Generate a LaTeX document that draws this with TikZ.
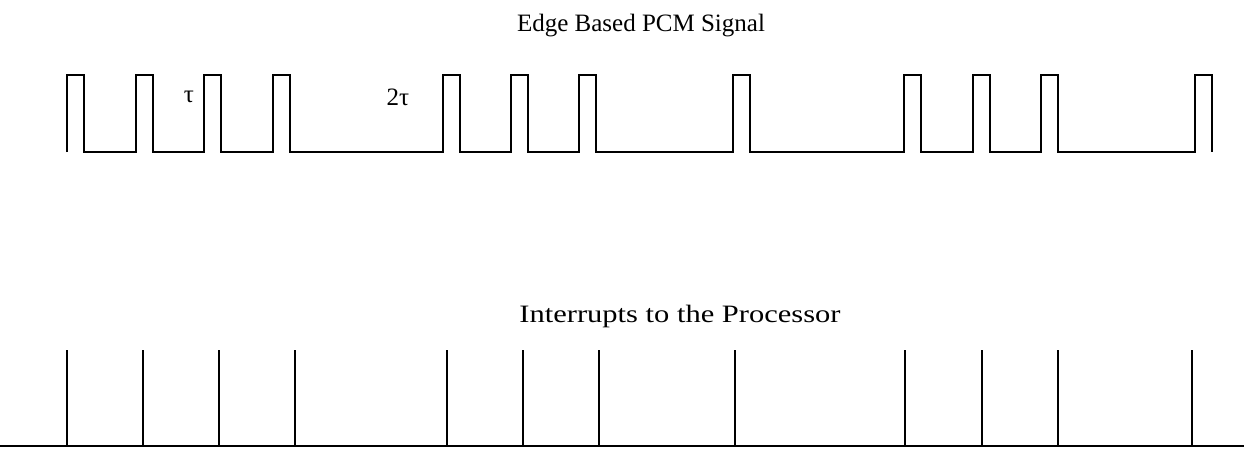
\documentclass[tikz,border=0pt]{standalone}
\usepackage{fontspec}
\setmainfont{Liberation Serif}
\usepackage{tikz}

\begin{document}
\begin{tikzpicture}[x=1pt,y=-1pt,line width=2pt,
		lbl/.style={inner sep=0pt,font=\fontsize{25}{30}\selectfont}]
		\useasboundingbox (0,0) rectangle (1244,448);
		
		% PCM signal
		\node[lbl,anchor=base] (title1) at (641,31) {Edge Based PCM Signal};
		\draw[line join=miter] (67,152)
			\foreach \r in {67,136,204,273,443,511,579,733,904,973,1041,1195}{
				-- (\r,152) -- (\r,75) -- (\r+17,75) -- (\r+17,152)
			};
		\node[lbl] (tau1) at (189,97) {τ};
		\node[lbl] (tau2) at (398,97) {2τ};
		
		% interrupts
		\node[lbl,anchor=base,xscale=1.22] (title2) at (680,322) {Interrupts to the Processor};
		\draw (0,446) -- (1244,446);
		\foreach \i in {67,143,219,295,447,523,599,735,905,982,1058,1192}{
			\draw (\i,446) -- (\i,350);
		}
\end{tikzpicture}
\end{document}
